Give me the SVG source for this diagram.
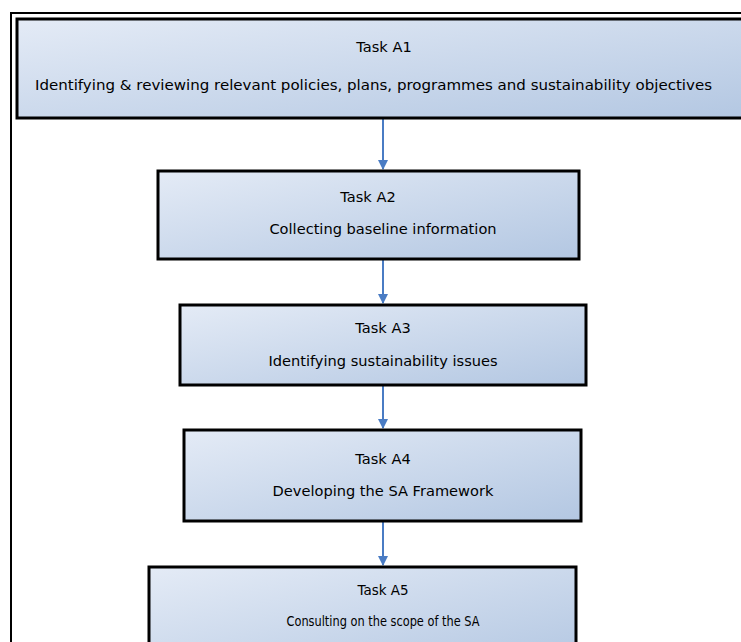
<svg xmlns="http://www.w3.org/2000/svg" width="741" height="642" viewBox="0 0 741 642">
<defs>
<linearGradient id="g" x1="0" y1="0" x2="1" y2="1">
<stop offset="0" stop-color="#e4ebf6"/>
<stop offset="1" stop-color="#b3c7e2"/>
</linearGradient>
<marker id="arr" markerWidth="10" markerHeight="10" refX="9" refY="5" orient="auto" markerUnits="userSpaceOnUse" viewBox="0 0 10 10">
<path d="M0,0 L10,5 L0,10 Z" fill="#4a7cc4"/>
</marker>
</defs>
<style>
.box{fill:url(#g);stroke:#000;stroke-width:3}
.t{font-family:"DejaVu Sans",Verdana,sans-serif;font-size:14.6px;fill:#000;text-anchor:middle}
.c{stroke:#4a7cc4;stroke-width:2;fill:none;marker-end:url(#arr)}
</style>
<rect x="0" y="0" width="741" height="642" fill="#fff"/>
<rect x="11" y="13" width="740" height="650" fill="none" stroke="#000" stroke-width="2"/>
<g id="connectors">
<line class="c" x1="383" y1="119" x2="383" y2="169"/>
<line class="c" x1="383" y1="259" x2="383" y2="303"/>
<line class="c" x1="383" y1="385" x2="383" y2="428"/>
<line class="c" x1="383" y1="521" x2="383" y2="565"/>
</g>
<g id="A1">
<rect class="box" x="17" y="19" width="740" height="99"/>
<text class="t" x="384" y="52">Task A1</text>
<text class="t" x="373.5" y="90" textLength="677" lengthAdjust="spacingAndGlyphs">Identifying &amp; reviewing relevant policies, plans, programmes and sustainability objectives</text>
</g>
<g id="A2">
<rect class="box" x="158" y="171" width="421" height="88"/>
<text class="t" x="368" y="202">Task A2</text>
<text class="t" x="383" y="234">Collecting baseline information</text>
</g>
<g id="A3">
<rect class="box" x="180" y="305" width="406" height="80"/>
<text class="t" x="383" y="333">Task A3</text>
<text class="t" x="383" y="366">Identifying sustainability issues</text>
</g>
<g id="A4">
<rect class="box" x="184" y="430" width="397" height="91"/>
<text class="t" x="383" y="464">Task A4</text>
<text class="t" x="383" y="496">Developing the SA Framework</text>
</g>
<g id="A5">
<rect class="box" x="149" y="567" width="427" height="100"/>
<text class="t" x="383" y="595" textLength="51" lengthAdjust="spacingAndGlyphs">Task A5</text>
<text class="t" x="383" y="626" textLength="193" lengthAdjust="spacingAndGlyphs">Consulting on the scope of the SA</text>
</g>
</svg>
